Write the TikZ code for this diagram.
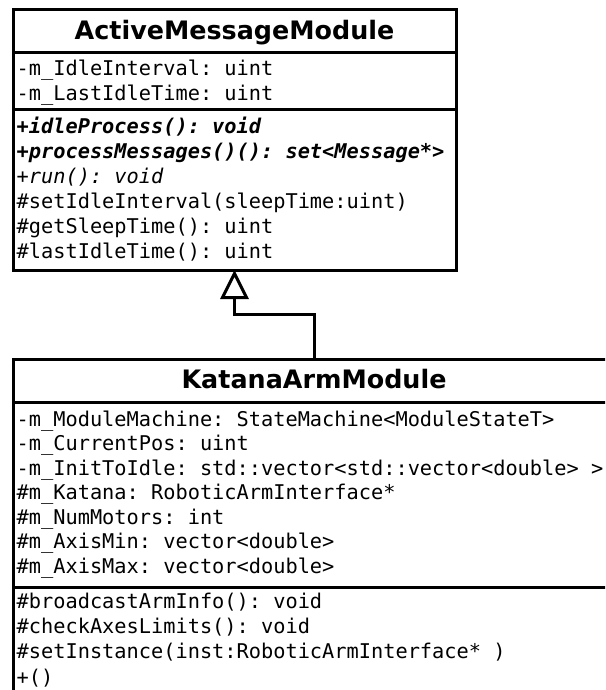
\documentclass[tikz,border=0pt]{standalone}
\usepackage{fontspec}
\setmainfont{DejaVu Sans}
\setmonofont{DejaVu Sans Mono}
\usetikzlibrary{arrows.meta}
\tikzset{
  x=1pt, y=-1pt,
  box/.style={draw=black, line width=3pt, fill=white, anchor=north west, inner sep=0pt, outer sep=0pt},
  sep/.style={line width=3pt},
  ttl/.style={anchor=base, inner sep=0pt, font=\fontsize{25.4}{28}\selectfont\bfseries},
  mem/.style={anchor=base west, inner sep=0pt, font=\fontsize{20.3}{24}\selectfont\ttfamily},
  gen/.style={line width=3pt, -{Triangle[open, length=29pt, width=28pt, line width=3pt]}},
}
\begin{document}
\begin{tikzpicture}
\useasboundingbox (0,0) rectangle (605,690);
\fill[white] (0,0) rectangle (605,690);
\clip (0,0) rectangle (605,690);
% ActiveMessageModule
\node[box, minimum width=443pt, minimum height=260.5pt] (amm) at (13,9.5) {};
\draw[sep] (13,53) -- (456,53);
\draw[sep] (13,110) -- (456,110);
\node[ttl] (ammt) at (234.5,40) {ActiveMessageModule};
\node[mem] (a1) at (16.5,76) {-m\_IdleInterval: uint};
\node[mem] (a2) at (16.5,101) {-m\_LastIdleTime: uint};
\node[mem] (m1) at (16.5,133) {\bfseries\itshape +idleProcess(): void};
\node[mem] (m2) at (16.5,158) {\bfseries\itshape +processMessages()(): set<Message*>};
\node[mem] (m3) at (16.5,183) {\itshape +run(): void};
\node[mem] (m4) at (16.5,208) {\#setIdleInterval(sleepTime:uint)};
\node[mem] (m5) at (16.5,233) {\#getSleepTime(): uint};
\node[mem] (m6) at (16.5,258) {\#lastIdleTime(): uint};
% KatanaArmModule
\node[box, minimum width=602pt, minimum height=361pt] (kam) at (13,359) {};
\draw[sep] (13,402) -- (620,402);
\draw[sep] (13,587) -- (620,587);
\node[ttl] (kamt) at (314,388) {KatanaArmModule};
\node[mem] (k1) at (16.5,426) {-m\_ModuleMachine: StateMachine<ModuleStateT>};
\node[mem] (k2) at (16.5,450.5) {-m\_CurrentPos: uint};
\node[mem] (k3) at (16.5,475) {-m\_InitToIdle: std::vector<std::vector<double> >};
\node[mem] (k4) at (16.5,499.5) {\#m\_Katana: RoboticArmInterface*};
\node[mem] (k5) at (16.5,524) {\#m\_NumMotors: int};
\node[mem] (k6) at (16.5,548.5) {\#m\_AxisMin: vector<double>};
\node[mem] (k7) at (16.5,573) {\#m\_AxisMax: vector<double>};
\node[mem] (n1) at (16.5,608) {\#broadcastArmInfo(): void};
\node[mem] (n2) at (16.5,633) {\#checkAxesLimits(): void};
\node[mem] (n3) at (16.5,658) {\#setInstance(inst:RoboticArmInterface* )};
\node[mem] (n4) at (16.5,684) {+()};
% generalization
\draw[gen] (kam.north) -- ++(0,-45) -| (amm.south);
\end{tikzpicture}
\end{document}
